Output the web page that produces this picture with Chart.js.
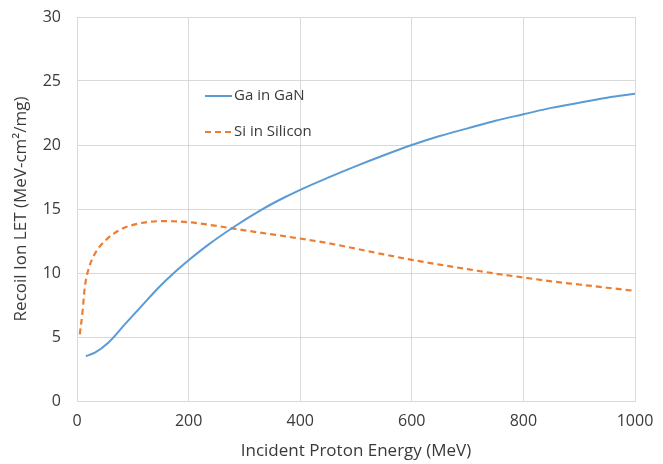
<!DOCTYPE html>
<html>
<head>
<meta charset="utf-8">
<script src="https://cdn.jsdelivr.net/npm/chart.js@4/dist/chart.umd.min.js"></script>
<style>
  html, body { margin: 0; padding: 0; background: #fff; }
  #wrap { width: 663px; height: 464px; }
</style>
</head>
<body>
<div id="wrap"><canvas id="letChart"></canvas></div>
<script>
// Ga in GaN (blue, solid)
const GA_ENERGY = [16, 32, 56, 86, 116, 146, 176, 200, 235, 283, 331, 367, 400, 450, 500, 550, 600, 650, 700, 750, 800, 850, 900, 950, 1000];
const GA_LET    = [3.5, 3.77, 4.55, 6.0, 7.43, 8.85, 10.1, 11.0, 12.2, 13.65, 14.95, 15.8, 16.5, 17.45, 18.35, 19.2, 20.0, 20.7, 21.3, 21.9, 22.4, 22.9, 23.3, 23.7, 24.0];

// Si in Silicon (orange, dashed)
const SI_ENERGY = [5, 10, 14, 20, 32, 50, 74, 104, 152, 200, 247, 295, 340, 391, 450, 500, 550, 600, 650, 700, 750, 800, 850, 900, 950, 1000];
const SI_LET    = [5.2, 7.0, 8.9, 10.2, 11.5, 12.5, 13.3, 13.8, 14.05, 13.97, 13.7, 13.37, 13.08, 12.75, 12.33, 11.9, 11.45, 11.03, 10.65, 10.3, 9.95, 9.65, 9.35, 9.1, 8.85, 8.6];

const SERIES_LABELS = ["Ga in GaN", "Si in Silicon"];

const X_TICKS = [0, 200, 400, 600, 800, 1000];
const Y_TICKS = [0, 5, 10, 15, 20, 25, 30];

const FONT = "'Open Sans', 'Liberation Sans', sans-serif";
const TEXT = "#3a3a3a";
const GRID = "#d9d9d9";

function toPoints(xs, ys) {
  return xs.map((x, i) => ({x: x, y: ys[i]}));
}

// legend drawn inside the plot, as in the original
const insideLegend = {
  id: 'insideLegend',
  afterDraw(chart) {
    const ctx = chart.ctx;
    const left = chart.chartArea.left + 128;
    const rows = [chart.chartArea.top + 79, chart.chartArea.top + 115];
    chart.data.datasets.forEach((ds, i) => {
      const y = rows[i];
      ctx.save();
      ctx.strokeStyle = ds.borderColor;
      ctx.lineWidth = ds.borderWidth;
      ctx.setLineDash(ds.borderDash || []);
      ctx.beginPath();
      ctx.moveTo(left, y);
      ctx.lineTo(left + 27, y);
      ctx.stroke();
      ctx.setLineDash([]);
      ctx.fillStyle = TEXT;
      ctx.font = "15px " + FONT;
      ctx.textBaseline = 'middle';
      ctx.fillText(ds.label, left + 29, y);
      ctx.restore();
    });
  }
};

new Chart(document.getElementById('letChart'), {
  type: 'line',
  data: {
    datasets: [
      {
        label: SERIES_LABELS[0],
        data: toPoints(GA_ENERGY, GA_LET),
        borderColor: '#5B9BD5',
        borderWidth: 2,
        pointRadius: 0,
        cubicInterpolationMode: 'monotone',
        fill: false
      },
      {
        label: SERIES_LABELS[1],
        data: toPoints(SI_ENERGY, SI_LET),
        borderColor: '#ED7D31',
        borderWidth: 2.2,
        borderDash: [6, 4],
        pointRadius: 0,
        cubicInterpolationMode: 'monotone',
        fill: false
      }
    ]
  },
  options: {
    responsive: true,
    maintainAspectRatio: false,
    animation: false,
    layout: { padding: { top: 17, right: 28, bottom: 0, left: 0 } },
    plugins: {
      legend: { display: false },
      tooltip: { enabled: false }
    },
    scales: {
      x: {
        type: 'linear',
        min: 0,
        max: 1000,
        afterBuildTicks: (axis) => { axis.ticks = X_TICKS.map(v => ({value: v})); },
        afterFit: (axis) => {
          axis.height = 63;
          axis.paddingLeft = 0;
          axis.paddingRight = 0;
        },
        grid: { color: GRID, drawTicks: false },
        border: { color: GRID },
        ticks: {
          color: TEXT,
          font: { family: FONT, size: 16 },
          padding: 11,
          maxRotation: 0,
          callback: (v) => String(v)
        },
        title: {
          display: true,
          text: 'Incident Proton Energy (MeV)',
          color: TEXT,
          font: { family: FONT, size: 17 },
          padding: { top: 0, bottom: 3 }
        }
      },
      y: {
        min: 0,
        max: 30,
        afterBuildTicks: (axis) => { axis.ticks = Y_TICKS.map(v => ({value: v})); },
        afterFit: (axis) => {
          axis.width = 77;
          axis.paddingTop = 0;
          axis.paddingBottom = 0;
        },
        grid: { color: GRID, drawTicks: false },
        border: { color: GRID },
        ticks: { color: TEXT, font: { family: FONT, size: 16 }, padding: 16 },
        title: {
          display: true,
          text: 'Recoil Ion LET (MeV-cm²/mg)',
          color: TEXT,
          font: { family: FONT, size: 17 },
          padding: { top: 11, bottom: 0 }
        }
      }
    }
  },
  plugins: [insideLegend]
});
</script>
</body>
</html>
